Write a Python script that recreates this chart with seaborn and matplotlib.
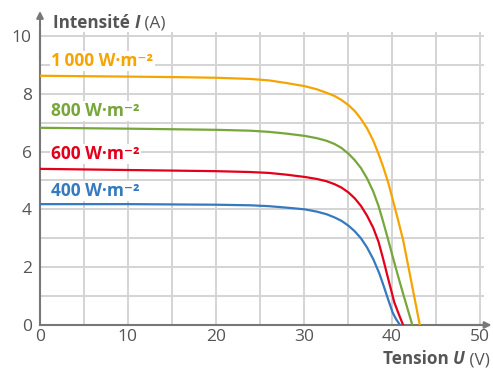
import matplotlib
matplotlib.use('Agg')
import matplotlib.pyplot as plt
import seaborn as sns
import pandas as pd

sns.set_theme(style='white')
plt.rcParams['font.family'] = ['Open Sans', 'DejaVu Sans']

# I-V curves: tension U (V), intensity I (A)
u_1000 = [0, 10, 16, 20, 23.9, 26.0, 28.0, 30.1, 31.5, 32.6, 33.5, 34.3, 35.1, 35.8, 36.5, 37.2, 37.9, 38.5, 39.0, 39.6, 40.1, 40.7, 41.3, 42.2, 43.2]
i_1000 = [8.62, 8.59, 8.57, 8.55, 8.51, 8.46, 8.37, 8.26, 8.15, 8.03, 7.92, 7.78, 7.60, 7.40, 7.13, 6.80, 6.38, 5.92, 5.50, 4.93, 4.36, 3.66, 2.94, 1.55, 0]

u_800 = [0, 10, 20, 23.9, 26.0, 28.0, 30.1, 31.5, 32.6, 33.5, 34.3, 35.1, 35.8, 36.5, 37.2, 37.9, 38.5, 39.0, 39.6, 40.1, 40.7, 41.3, 42.35]
i_800 = [6.82, 6.79, 6.75, 6.72, 6.68, 6.62, 6.54, 6.46, 6.37, 6.26, 6.12, 5.92, 5.70, 5.43, 5.07, 4.62, 4.12, 3.60, 2.95, 2.38, 1.72, 1.08, 0]

u_600 = [0, 10, 20, 23.9, 26.0, 28.0, 30.1, 31.5, 32.6, 33.5, 34.3, 35.1, 35.8, 36.5, 37.2, 37.9, 38.5, 39.0, 39.6, 40.3, 40.8, 41.3]
i_600 = [5.40, 5.36, 5.32, 5.29, 5.26, 5.20, 5.12, 5.05, 4.97, 4.87, 4.75, 4.58, 4.38, 4.12, 3.78, 3.36, 2.88, 2.32, 1.60, 0.78, 0.38, 0]

u_400 = [0, 10, 20, 23.9, 26.0, 28.0, 30.1, 31.5, 32.6, 33.5, 34.3, 35.1, 35.8, 36.5, 37.2, 37.9, 38.6, 39.1, 39.6, 40.1, 40.5, 40.95]
i_400 = [4.18, 4.18, 4.16, 4.14, 4.11, 4.06, 4.00, 3.92, 3.83, 3.72, 3.60, 3.43, 3.24, 3.00, 2.68, 2.28, 1.78, 1.34, 0.88, 0.44, 0.20, 0]

labels = ['1\u2009000 W·m⁻²', '800 W·m⁻²', '600 W·m⁻²', '400 W·m⁻²']
label_y = [8.96, 7.23, 5.74, 4.46]
colors = ['#F6A400', '#77A63A', '#E3001B', '#3579C0']

df = pd.concat([
    pd.DataFrame({'U': u, 'I': i, 'serie': lab})
    for u, i, lab in zip([u_1000, u_800, u_600, u_400],
                         [i_1000, i_800, i_600, i_400], labels)
])

fig = plt.figure(figsize=(4.93, 3.68), dpi=100)
ax = fig.add_axes([40 / 493, 43 / 368, 444 / 493, 293.5 / 368])

sns.lineplot(data=df, x='U', y='I', hue='serie', palette=colors,
             sort=False, estimator=None, linewidth=1.6, legend=False, ax=ax, zorder=3)

ax.set_xlim(0, 50.5)
ax.set_ylim(0, 10.15)
ax.set_xticks(range(0, 51, 10))
ax.set_xticks(range(0, 51, 5), minor=True)
ax.set_yticks(range(0, 11, 2))
ax.set_yticks(range(0, 11, 1), minor=True)
ax.grid(True, which='both', color='#d4d4d4', linewidth=1.4, zorder=0)
ax.set_axisbelow(True)

gray = '#555555'
ax.tick_params(axis='both', which='major', labelsize=12.5, labelcolor=gray,
               color='#777777', length=5, width=1.2, pad=1)
ax.tick_params(axis='x', which='major', length=0, pad=3)
ax.tick_params(which='minor', length=0)
for s in ['top', 'right']:
    ax.spines[s].set_visible(False)
for s in ['left', 'bottom']:
    ax.spines[s].set_color('#777777')
    ax.spines[s].set_linewidth(1.5)
ax.set_xlabel('')
ax.set_ylabel('')

# axis arrows
ax.annotate('', xy=(0, 1.07), xytext=(0, 0.9), xycoords='axes fraction',
            arrowprops=dict(arrowstyle='-|>', color='#777777', lw=1.5,
                            mutation_scale=10, shrinkA=0, shrinkB=0),
            annotation_clip=False)
ax.annotate('', xy=(1.017, 0), xytext=(0.9, 0), xycoords='axes fraction',
            arrowprops=dict(arrowstyle='-|>', color='#777777', lw=1.5,
                            mutation_scale=10, shrinkA=0, shrinkB=0),
            annotation_clip=False)

# curve labels
for lab, y, c in zip(labels, label_y, colors):
    ax.text(1.25, y, lab, color=c, fontsize=12.5, fontweight='bold', va='baseline',
            ha='left', zorder=4,
            bbox=dict(facecolor='white', edgecolor='none', pad=1))

# axis titles
t1 = fig.text(53 / 493, 1 - 28 / 368, 'Intensité ', fontsize=12.3,
              fontweight='bold', color=gray, va='baseline')
t2 = ax.annotate('I', xy=(1, 0), xycoords=t1, va='bottom', fontsize=12.3,
                 fontweight='bold', fontstyle='italic', color=gray)
ax.annotate(' (A)', xy=(1, 0), xycoords=t2, va='bottom', fontsize=12.3,
            color=gray)

t3 = fig.text(490 / 493, 3.5 / 368, ' (V)', fontsize=12.3, color=gray,
              ha='right', va='baseline')
t4 = ax.annotate('U', xy=(0, 0), xycoords=t3, va='bottom', ha='right',
                 fontsize=12.3, fontweight='bold', fontstyle='italic', color=gray)
ax.annotate('Tension ', xy=(0, 0), xycoords=t4, va='bottom', ha='right',
            fontsize=12.3, fontweight='bold', color=gray)

fig.savefig('out.png', dpi=100)
